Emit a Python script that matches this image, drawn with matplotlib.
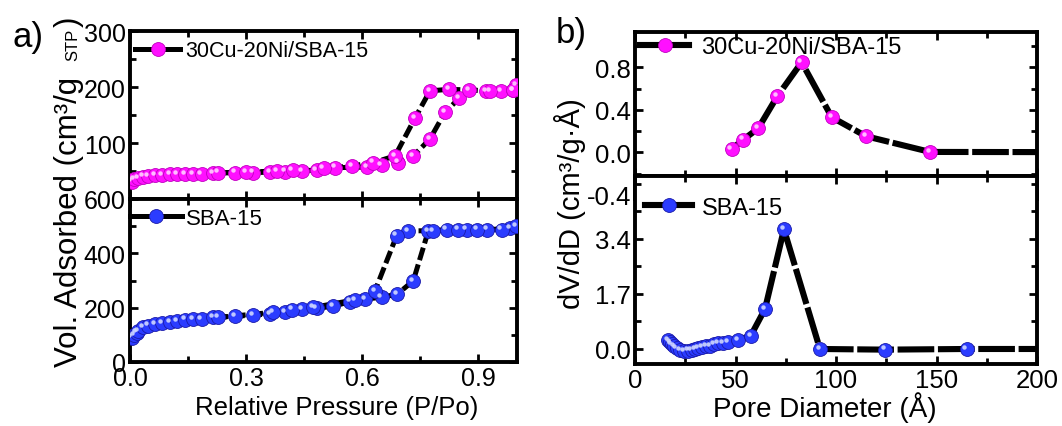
import numpy as np
import matplotlib
matplotlib.use("Agg")
import matplotlib.pyplot as plt
from matplotlib.lines import Line2D
from matplotlib.ticker import FormatStrFormatter
from matplotlib.transforms import offset_copy

plt.rcParams['font.family'] = ['Liberation Sans', 'DejaVu Sans']
plt.rcParams['axes.unicode_minus'] = False

# ---- data ----
# a) N2 isotherms, 30Cu-20Ni/SBA-15
cuni_ads_p = [0.004, 0.010, 0.021, 0.034, 0.047, 0.065, 0.082, 0.103, 0.121, 0.142,
              0.164, 0.185, 0.215, 0.271, 0.319, 0.362, 0.401, 0.444, 0.482, 0.530,
              0.612, 0.650, 0.693, 0.732, 0.775, 0.814, 0.851, 0.877, 0.920, 0.958,
              0.989, 0.998]
cuni_ads_v = [31, 35, 38, 40, 41, 42, 43, 44, 44, 45,
              45, 45, 46, 47, 47, 48, 49, 50, 52, 56,
              57, 61, 65, 77, 107, 155, 180, 195, 193, 193,
              195, 203]
cuni_des_p = [0.989, 0.930, 0.825, 0.775, 0.736, 0.685, 0.629, 0.573, 0.500, 0.420,
              0.380, 0.300, 0.228]
cuni_des_v = [195, 193, 196, 193, 144, 77, 65, 59, 55, 51,
              50, 48, 47]

# a) SBA-15
sba_ads_p = [0.004, 0.010, 0.017, 0.021, 0.034, 0.047, 0.065, 0.082, 0.103, 0.121,
             0.142, 0.164, 0.185, 0.215, 0.271, 0.319, 0.362, 0.401, 0.444, 0.482,
             0.525, 0.568, 0.607, 0.650, 0.691, 0.732, 0.771, 0.818, 0.870, 0.922,
             0.982, 0.998]
sba_ads_v = [90, 100, 108, 115, 128, 134, 140, 144, 148, 152,
             156, 158, 158, 164, 168, 173, 177, 183, 195, 198,
             205, 222, 232, 238, 250, 299, 483, 487, 487, 487,
             492, 499]
sba_des_p = [0.960, 0.896, 0.848, 0.784, 0.719, 0.689, 0.633, 0.581, 0.474, 0.418,
             0.370, 0.228]
sba_des_v = [487, 487, 487, 483, 483, 465, 262, 229, 201, 193,
             183, 164]

# b) pore size distributions
cuni_d = [48.1, 53.9, 61.3, 70.8, 82.9, 97.9, 114.9, 146.8, 260]
cuni_dvdd = [0.031, 0.119, 0.225, 0.527, 0.847, 0.329, 0.151, 0.003, 0.0]

sba_d = [16.6, 17.4, 18.2, 19.3, 20.7, 22.4, 24.3, 26.5, 28.2, 29.9,
         31.5, 33.2, 35.2, 37.3, 39.3, 41.4, 43.8, 46.4, 51.4, 57.6,
         64.7, 74.1, 92.0, 124.4, 165.0, 260]
sba_dvdd = [0.28, 0.22, 0.15, 0.08, 0.02, -0.03, -0.06, -0.05, -0.03, 0.0,
            0.03, 0.05, 0.08, 0.10, 0.14, 0.17, 0.19, 0.21, 0.28, 0.41,
            1.24, 3.70, 0.0, -0.02, 0.0, 0.0]

label_cuni = '30Cu-20Ni/SBA-15'
label_sba = 'SBA-15'

MAG = '#ff10ff'
MAG_EDGE = '#c000c0'
MAG_HI = '#ffd0ff'
BLUE = '#2b3cff'
BLUE_EDGE = '#1a1aa8'
BLUE_HI = '#d0d8ff'

W, H = 1062, 427
fig = plt.figure(figsize=(W / 100, H / 100), dpi=100)


def px_axes(x0, y0, x1, y1):
    return fig.add_axes([x0 / W, 1 - y1 / H, (x1 - x0) / W, (y1 - y0) / H])


def draw(ax, x, y, col, edge, hi, lw, ms, dash):
    ax.plot(x, y, color='black', lw=lw, dashes=dash, zorder=2)
    ax.plot(x, y, ls='none', marker='o', ms=ms, mfc=col, mec=edge, mew=0.6, zorder=3)
    tr = offset_copy(ax.transData, fig=fig, x=-2.2, y=2.2, units='dots')
    ax.plot(x, y, ls='none', marker='o', ms=ms * 0.32, mfc=hi, mec='none',
            alpha=0.9, transform=tr, zorder=4)


def style(ax, fs):
    for sp in ax.spines.values():
        sp.set_linewidth(2.8)
    ax.tick_params(which='both', direction='in', top=True, right=True,
                   width=2.0, labelsize=fs, pad=3)
    ax.tick_params(which='major', length=6)
    ax.tick_params(which='minor', length=4)


def leg(ax, col, edge, text, x, y, fs, hl, tp, lw, ms):
    h = Line2D([], [], color='black', lw=lw, marker='o', ms=ms, mfc=col, mec=edge, mew=0.6)
    ax.legend([h], [text], loc='center left', bbox_to_anchor=(x, y), frameon=False,
              fontsize=fs, handlelength=hl, handletextpad=tp, borderpad=0,
              borderaxespad=0, numpoints=1)


# ---- a) isotherms ----
a1 = px_axes(130, 32, 517, 200)
a2 = px_axes(130, 200, 517, 363)

draw(a1, cuni_ads_p, cuni_ads_v, MAG, MAG_EDGE, MAG_HI, 3.6, 10, (2.6, 0.9))
draw(a1, cuni_des_p, cuni_des_v, MAG, MAG_EDGE, MAG_HI, 3.6, 10, (2.6, 0.9))
draw(a2, sba_ads_p, sba_ads_v, BLUE, BLUE_EDGE, BLUE_HI, 3.6, 10, (2.6, 0.9))
draw(a2, sba_des_p, sba_des_v, BLUE, BLUE_EDGE, BLUE_HI, 3.6, 10, (2.6, 0.9))

for ax in (a1, a2):
    ax.set_xlim(0, 1.0)
    ax.set_xticks([0, 0.3, 0.6, 0.9])
    ax.set_xticks([0.15, 0.45, 0.75], minor=True)
    ax.xaxis.set_major_formatter(FormatStrFormatter('%.1f'))
    style(ax, 18)
a1.set_ylim(0, 300)
a1.set_yticks([100, 200, 300])
a1.set_yticks([50, 150, 250], minor=True)
a1.tick_params(labelbottom=False)
a2.set_ylim(0, 600)
a2.set_yticks([0, 200, 400, 600])
a2.set_yticks([100, 300, 500], minor=True)

leg(a1, MAG, MAG_EDGE, label_cuni, 0.013, 0.881, 15.5, 2.1, 0.23, 3.6, 10)
leg(a2, BLUE, BLUE_EDGE, label_sba, 0.0, 0.883, 16, 2.35, 0.15, 3.6, 10)

# ---- b) pore size distribution ----
b1 = px_axes(635, 33, 1037, 200)
b2 = px_axes(635, 177, 1037, 365)
b1.set_zorder(1)
b2.set_zorder(2)
b2.patch.set_facecolor('white')

draw(b1, cuni_d, cuni_dvdd, MAG, MAG_EDGE, MAG_HI, 4.4, 10, (6, 0.6))
draw(b2, sba_d, sba_dvdd, BLUE, BLUE_EDGE, BLUE_HI, 4.4, 10, (6, 0.6))

for ax in (b1, b2):
    ax.set_xlim(0, 200)
    ax.set_xticks([0, 50, 100, 150, 200])
    ax.set_xticks([25, 75, 125, 175], minor=True)
    ax.yaxis.set_major_formatter(FormatStrFormatter('%.1f'))
    style(ax, 18.5)
b1.set_ylim(-0.44, 1.132)
b1.spines['bottom'].set_position(('data', -0.223))
b1.set_yticks([-0.4, 0.0, 0.4, 0.8])
b1.set_yticks([-0.2, 0.2, 0.6, 1.0], minor=True)
b1.tick_params(labelbottom=False)
b2.set_ylim(-0.464, 5.347)
b2.set_yticks([0.0, 1.7, 3.4])
b2.set_yticks([0.85, 2.55, 4.25, 5.1], minor=True)

leg(b1, MAG, MAG_EDGE, label_cuni, 0.012, 0.910, 17, 2.1, 0.5, 4.4, 10)
leg(b2, BLUE, BLUE_EDGE, label_sba, 0.025, 0.832, 17, 2.0, 0.4, 4.4, 10)

# ---- labels ----
# left y label: baseline-anchored pieces so the small "STP" sits on the same baseline
base_x = 77 / W
fig.text(base_x, 1 - 367 / H, 'Vol. Adsorbed (cm³/g', rotation=90, rotation_mode='anchor',
         ha='left', va='baseline', fontsize=22.5)
fig.text(base_x, 1 - 61 / H, 'STP', rotation=90, rotation_mode='anchor',
         ha='left', va='baseline', fontsize=12)
fig.text(base_x, 1 - 27 / H, ')', rotation=90, rotation_mode='anchor',
         ha='left', va='baseline', fontsize=22.5)
fig.text(570 / W, 1 - 204 / H, 'dV/dD (cm³/g·Å)', rotation=90,
         ha='center', va='center', fontsize=21)
fig.text(337 / W, 1 - 408 / H, 'Relative Pressure (P/Po)', ha='center', va='center', fontsize=18.5)
fig.text(825 / W, 1 - 408 / H, 'Pore Diameter (Å)', ha='center', va='center', fontsize=20)
fig.text(12 / W, 1 - 37 / H, 'a)', ha='left', va='center', fontsize=25)
fig.text(556 / W, 1 - 34 / H, 'b)', ha='left', va='center', fontsize=25)

fig.savefig('out.png', dpi=100)
